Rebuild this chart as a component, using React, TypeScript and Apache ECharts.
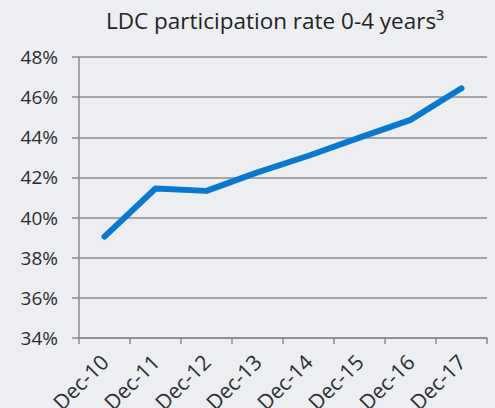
import React, { useEffect, useRef } from "react";
import * as echarts from "echarts";

const categories = ["Dec-10", "Dec-11", "Dec-12", "Dec-13", "Dec-14", "Dec-15", "Dec-16", "Dec-17"];
const participation = [39.05, 41.45, 41.33, 42.25, 43.08, 43.98, 44.87, 46.44];
const yMin = 34;
const yMax = 48;
const yStep = 2;

export default function App() {
  const ref = useRef<HTMLDivElement>(null);
  useEffect(() => {
    if (!ref.current) return;
    const chart = echarts.init(ref.current, null, { renderer: "svg" });
    const axisColor = "#8c8c8c";
    const font = "Open Sans";
    chart.setOption({
      animation: false,
      backgroundColor: "#eceef1",
      textStyle: { fontFamily: font },
      title: {
        text: "LDC participation rate 0-4 years³",
        left: 270,
        top: 4,
        textAlign: "center",
        textStyle: { fontFamily: font, fontSize: 22.5, fontWeight: "normal", color: "#1f2326" },
      },
      grid: { left: 79, right: 8, top: 57, bottom: 70, containLabel: false, outerBoundsMode: "none" },
      xAxis: {
        type: "category",
        data: categories,
        boundaryGap: true,
        axisLine: { show: true, lineStyle: { color: axisColor, width: 1.5 } },
        axisTick: { show: true, length: 6, alignWithLabel: false, lineStyle: { color: axisColor, width: 1.5 } },
        axisLabel: { rotate: 45, margin: 20, fontSize: 21, color: "#2a2d30", fontFamily: font, interval: 0 },
        splitLine: { show: false },
      },
      yAxis: {
        type: "value",
        min: yMin,
        max: yMax,
        interval: yStep,
        axisLine: { show: true, lineStyle: { color: axisColor, width: 1.5 } },
        axisTick: { show: true, length: 7, lineStyle: { color: axisColor, width: 1.5 } },
        axisLabel: { formatter: "{value}%", margin: 21, fontSize: 19, color: "#2a2d30", fontFamily: font },
        splitLine: { show: true, lineStyle: { color: axisColor, width: 1.5 } },
      },
      series: [
        {
          type: "line",
          data: participation,
          symbol: "none",
          lineStyle: { color: "#0b78d0", width: 6, cap: "round", join: "round" },
        },
      ],
    });
    return () => chart.dispose();
  }, []);
  return <div ref={ref} style={{ position: "fixed", left: 0, top: 0, width: 495, height: 408 }} />;
}
